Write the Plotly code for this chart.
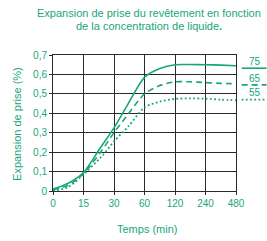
import math
import plotly.graph_objects as go

# ---- data ----
time_ticks = [0, 15, 30, 60, 120, 240, 480]
time_tick_labels = ["0", "15", "30", "60", "120", "240", "480"]
y_ticks = [0, 0.1, 0.2, 0.3, 0.4, 0.5, 0.6, 0.7]
y_tick_labels = ["0", "0,1", "0,2", "0,3", "0,4", "0,5", "0,6", "0,7"]

times = [0, 7.5, 15, 22.5, 30, 42, 60, 85, 120, 170, 240, 340, 480]
series_names = ["75", "65", "55"]
exp_75 = [0.01, 0.04, 0.095, 0.23, 0.325, 0.455, 0.585, 0.630, 0.650, 0.651, 0.650, 0.648, 0.645]
exp_65 = [0.005, 0.03, 0.09, 0.205, 0.30, 0.40, 0.50, 0.543, 0.562, 0.562, 0.558, 0.554, 0.552]
exp_55 = [0.0, 0.02, 0.085, 0.176, 0.255, 0.335, 0.43, 0.46, 0.474, 0.477, 0.475, 0.470, 0.467]

GREEN = "#17a67a"
GRID = "#2b2b2b"
FONT = "Liberation Sans, Arial, sans-serif"


def pos(t):
    # axis scale: linear 0-15, then one tick per doubling
    return t / 15.0 if t <= 15 else 1 + math.log2(t / 15.0)


xs = [pos(t) for t in times]

fig = go.Figure()
dashes = ["solid", "6px,4px", "1.8px,2.4px"]
widths = [1.6, 1.6, 1.8]
for name, vals, dash, w in zip(series_names, [exp_75, exp_65, exp_55], dashes, widths):
    fig.add_trace(go.Scatter(x=xs, y=vals, mode="lines", name=name,
                             line=dict(color=GREEN, width=w, dash=dash, shape="spline", smoothing=0.75),
                             showlegend=False, cliponaxis=False, hoverinfo="skip"))

# legend-like labels on the right
leg_line_y = [0.632, 0.546, 0.47]
leg_text_y = [0.665, 0.578, 0.505]
for name, ly, ty, dash, w in zip(series_names, leg_line_y, leg_text_y, dashes, widths):
    fig.add_shape(type="line", xref="paper", yref="y", x0=1.031, x1=1.167, y0=ly, y1=ly,
                  line=dict(color=GREEN, width=w, dash=dash))
    fig.add_annotation(xref="paper", yref="y", x=1.15, y=ty, text=name, showarrow=False,
                       xanchor="right", yanchor="middle", font=dict(size=10, color=GREEN, family=FONT))

# title (two centered lines)
title_lines = ["Expansion de prise du revêtement en fonction", "de la concentration de liquide<b>.</b>"]
for i, line in enumerate(title_lines):
    fig.add_annotation(xref="paper", yref="paper", x=0.523, y=1 + (42 - 12.5 * i) / 136.5, text=line,
                       showarrow=False, xanchor="center", yanchor="middle",
                       font=dict(size=11, color=GREEN, family=FONT))

# axis titles
fig.add_annotation(xref="paper", yref="paper", x=0.518, y=-38 / 136.5, text="Temps (min)",
                   showarrow=False, xanchor="center", yanchor="middle",
                   font=dict(size=11, color=GREEN, family=FONT))
fig.add_annotation(xref="paper", yref="paper", x=-35.5 / 183.5, y=0.49, text="Expansion de prise (%)",
                   showarrow=False, xanchor="center", yanchor="middle", textangle=-90,
                   font=dict(size=11, color=GREEN, family=FONT))

fig.update_layout(
    width=267, height=241,
    margin=dict(l=52.5, r=31, t=55, b=49.5, autoexpand=False),
    paper_bgcolor="white", plot_bgcolor="white",
    font=dict(family=FONT, color=GREEN, size=10),
    showlegend=False,
)
fig.update_xaxes(range=[0, 6], tickvals=[pos(t) for t in time_ticks], ticktext=time_tick_labels,
                 showgrid=True, gridcolor=GRID, gridwidth=1, zeroline=False,
                 showline=True, linecolor=GRID, linewidth=1, mirror=True,
                 ticks="outside", ticklen=3, tickcolor=GRID, automargin=False,
                 tickfont=dict(size=10, color=GREEN, family=FONT))
fig.update_yaxes(range=[0, 0.7], tickvals=y_ticks, ticktext=y_tick_labels,
                 showgrid=True, gridcolor=GRID, gridwidth=1, zeroline=False,
                 showline=True, linecolor=GRID, linewidth=1, mirror=True,
                 ticks="outside", ticklen=3, tickcolor=GRID, automargin=False,
                 tickfont=dict(size=10, color=GREEN, family=FONT))

fig.write_html("out.html", config={"displayModeBar": False},
               post_script="document.body.style.margin='0';document.body.style.overflow='hidden';")
